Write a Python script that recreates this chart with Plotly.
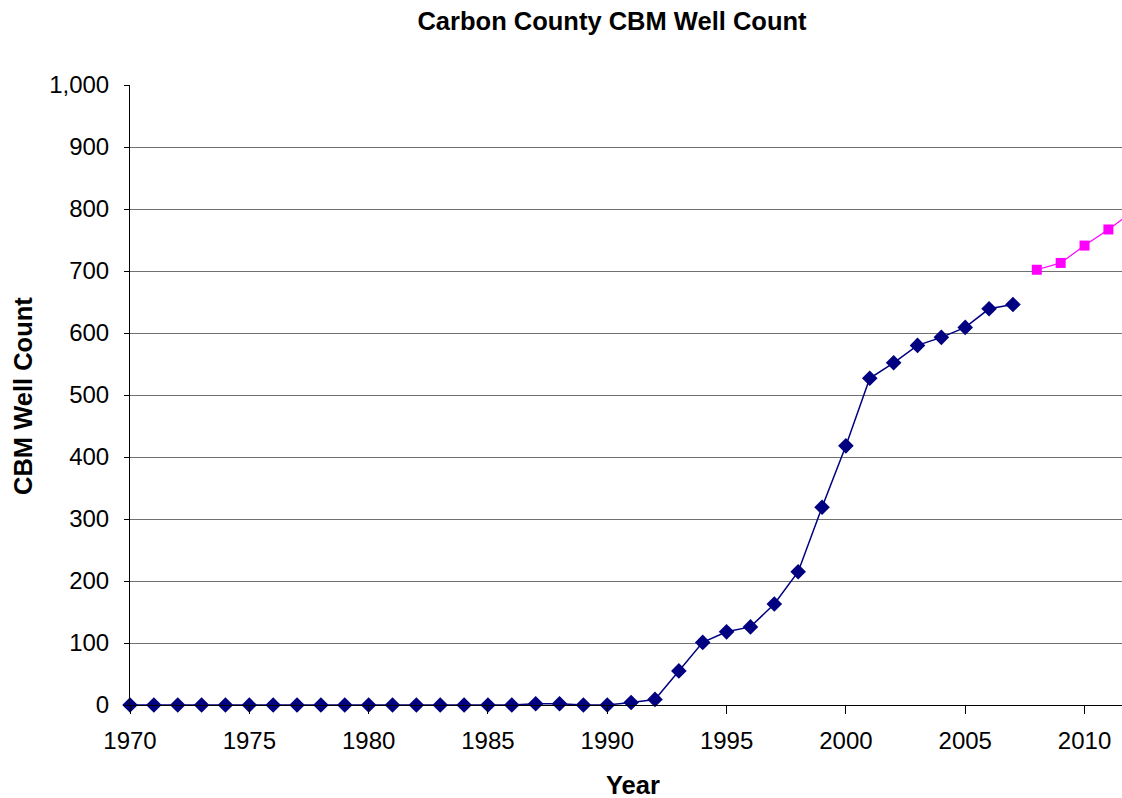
import plotly.graph_objects as go

# Historical CBM well counts, Carbon County
years_actual = list(range(1970, 2008))
wells_actual = [0, 0, 0, 0, 0, 0, 0, 0, 0, 0,
                0, 0, 0, 0, 0, 0, 0, 2, 2, 0,
                0, 4, 9, 55, 101, 118, 126, 163, 215, 319,
                418, 527, 552, 580, 593, 609, 639, 646]

# Projected well counts
years_proj = [2008, 2009, 2010, 2011, 2012]
wells_proj = [702, 713, 741, 767, 795]

W, H = 1122, 798
L, R, T, B = 130, 0, 85, 93
PW, PH = W - L - R, H - T - B
FONT = "Arial, Liberation Sans, sans-serif"


def px_x(x):
    return (x - L) / PW


def px_y(y):
    return (H - B - y) / PH


fig = go.Figure()
fig.add_trace(go.Scatter(
    x=years_actual, y=wells_actual, mode="lines+markers",
    line=dict(color="#000080", width=1.5),
    marker=dict(symbol="diamond", size=12, color="#000080"),
    cliponaxis=False, showlegend=False,
))
fig.add_trace(go.Scatter(
    x=years_proj, y=wells_proj, mode="lines+markers",
    line=dict(color="#FF00FF", width=1.2),
    marker=dict(symbol="square", size=10, color="#FF00FF"),
    cliponaxis=False, showlegend=False,
))

fig.update_layout(
    width=W, height=H,
    margin=dict(l=L, r=R, t=T, b=B),
    paper_bgcolor="white", plot_bgcolor="white",
    font=dict(family=FONT, color="black", size=24),
    title=dict(text="<b>Carbon County CBM Well Count</b>",
               font=dict(size=25.5, family=FONT, color="black"),
               x=612 / W, xanchor="center", xref="container",
               y=1 - 21 / H, yanchor="middle", yref="container"),
    xaxis=dict(
        range=[1970, 2011.57], tickmode="linear", tick0=1970, dtick=5,
        showgrid=False, zeroline=False,
        showline=True, linecolor="black", linewidth=1,
        ticks="outside", ticklen=8, tickcolor="black",
        tickfont=dict(size=24, family=FONT),
        ticklabelstandoff=6,
    ),
    yaxis=dict(
        range=[0, 1000], tickmode="linear", tick0=0, dtick=100,
        tickformat=",",
        showgrid=True, gridcolor="#707070", gridwidth=1,
        zeroline=False,
        showline=True, linecolor="black", linewidth=1,
        ticks="outside", ticklen=5, tickcolor="black",
        tickfont=dict(size=24, family=FONT),
        ticklabelstandoff=10,
    ),
    annotations=[
        dict(text="<b>Year</b>", x=px_x(632.5), y=px_y(785),
             xref="paper", yref="paper", xanchor="center", yanchor="middle",
             showarrow=False, font=dict(size=25.5, family=FONT, color="black")),
        dict(text="<b>CBM Well Count</b>", x=px_x(23), y=px_y(396),
             xref="paper", yref="paper", xanchor="center", yanchor="middle",
             textangle=-90, showarrow=False,
             font=dict(size=25.5, family=FONT, color="black")),
    ],
)

fig.write_html("out.html")
